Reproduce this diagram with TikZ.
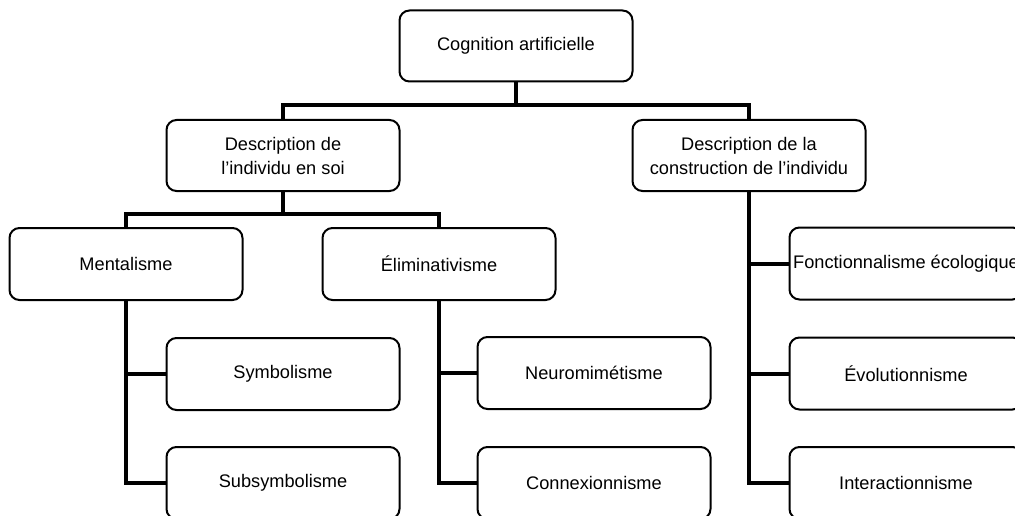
\documentclass[tikz,border=0pt]{standalone}
\usepackage{fontspec}
\setmainfont{Liberation Sans}
\begin{document}
\begin{tikzpicture}[x=1pt,y=-1pt,
  box/.style={draw=black, line width=2pt, rounded corners=10pt, fill=white,
    minimum width=233pt, minimum height=72pt, inner sep=2pt, align=center,
    font=\fontsize{18.2}{24}\selectfont},
  link/.style={draw=black, line width=4pt}]
\clip (0,0) rectangle (1015,516);
\fill[white] (0,0) rectangle (1015,516);
\node[box, minimum height=71pt] (top) at (516,46) {Cognition artificielle};
\node[box, minimum height=71pt] (dl) at (283,155.5) {Description de\\l'individu en soi};
\node[box, minimum height=71pt] (dr) at (749,155.5) {Description de la\\construction de l'individu};
\node[box] (ment) at (126,264) {Mentalisme};
\node[box] (elim) at (439,264) {Éliminativisme};
\node[box] (sym) at (283,374) {Symbolisme};
\node[box] (subs) at (283,483) {Subsymbolisme};
\node[box] (neur) at (594,373) {Neuromimétisme};
\node[box] (conn) at (594,483) {Connexionnisme};
\node[box] (fonc) at (906,263.5) {Fonctionnalisme écologique};
\node[box] (evol) at (906,373.5) {Évolutionnisme};
\node[box] (inter) at (906,483) {Interactionnisme};
\coordinate (j1) at (516,105);
\coordinate (j2) at (283,214);
\draw[link] (top.south) -- (j1);
\draw[link] (dl.north) |- (j1) -| (dr.north);
\draw[link] (dl.south) -- (j2);
\draw[link] (ment.north) |- (j2) -| (elim.north);
\draw[link] (ment.south) |- (sym.west);
\draw[link] (ment.south) |- (subs.west);
\draw[link] (elim.south) |- (neur.west);
\draw[link] (elim.south) |- (conn.west);
\draw[link] (dr.south) |- (fonc.west);
\draw[link] (dr.south) |- (evol.west);
\draw[link] (dr.south) |- (inter.west);
\end{tikzpicture}
\end{document}
